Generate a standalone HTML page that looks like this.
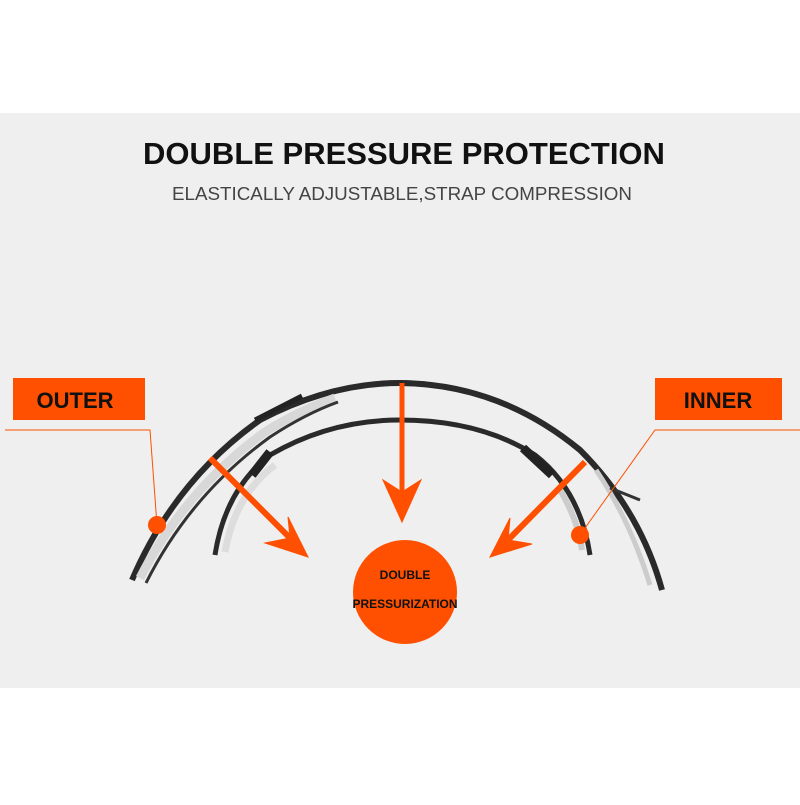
<!DOCTYPE html>
<html><head><style>
body{margin:0;width:800px;height:800px;background:#fff;overflow:hidden;font-family:"Liberation Sans",sans-serif}
</style></head><body>
<svg width="800" height="800" viewBox="0 0 800 800">
<rect x="0" y="113" width="800" height="575" fill="#efefef"/>
<text x="404" y="164" font-size="31" font-weight="bold" text-anchor="middle" fill="#111" font-family="Liberation Sans">DOUBLE PRESSURE PROTECTION</text>
<text x="402" y="200" font-size="18.8" text-anchor="middle" fill="#444" font-family="Liberation Sans">ELASTICALLY ADJUSTABLE,STRAP COMPRESSION</text>
<!-- outer band -->
<path d="M132,580 Q175,480 260,420 Q330,383 400,383 Q500,384 580,450 Q640,510 662,590" fill="none" stroke="#2a2a2a" stroke-width="6"/>
<path d="M140,578 Q185,490 265,432 Q300,410 335,398" fill="none" stroke="#d8d8d8" stroke-width="9"/>
<path d="M146,583 Q190,495 270,437 Q305,414 338,402" fill="none" stroke="#333" stroke-width="3"/>
<path d="M255,420 L302,396" stroke="#222" stroke-width="5"/>
<path d="M596,470 Q630,520 650,585" fill="none" stroke="#ccc" stroke-width="5"/>
<!-- inner band -->
<path d="M215,555 Q225,490 270,455 Q330,420 400,420 Q480,420 535,455 Q580,490 590,555" fill="none" stroke="#2a2a2a" stroke-width="5"/>
<path d="M225,552 Q235,495 275,465" fill="none" stroke="#ddd" stroke-width="7"/>
<path d="M252,475 L270,452" stroke="#222" stroke-width="9"/>
<path d="M523,448 L552,475" stroke="#222" stroke-width="9"/>
<path d="M560,490 Q578,520 582,550" fill="none" stroke="#ccc" stroke-width="6"/>
<path d="M610,488 L640,500" stroke="#333" stroke-width="3"/>
<!-- arrows -->
<g fill="#fe5000" stroke="#fe5000">
<line x1="402" y1="383" x2="402" y2="500" stroke-width="5"/>
<path d="M383,480 L402,522 L421,480 L402,492 Z"/>
<line x1="210" y1="458" x2="290" y2="538" stroke-width="6"/>
<path d="M288,517 L308,557 L265,543 L290,538 Z"/>
<line x1="585" y1="462" x2="508" y2="540" stroke-width="6"/>
<path d="M510,518 L490,557 L532,544 L508,540 Z"/>
</g>
<circle cx="405" cy="592" r="52" fill="#fe5000"/>
<text x="405" y="579" font-size="12" font-weight="bold" text-anchor="middle" fill="#111" font-family="Liberation Sans">DOUBLE</text>
<text x="405" y="608" font-size="12" font-weight="bold" text-anchor="middle" fill="#111" font-family="Liberation Sans">PRESSURIZATION</text>
<!-- labels -->
<rect x="13" y="378" width="132" height="42" fill="#fe5000"/>
<text x="75" y="408" font-size="22" font-weight="bold" text-anchor="middle" fill="#111" font-family="Liberation Sans">OUTER</text>
<polyline points="5,430 150,430 157,525" fill="none" stroke="#fe5000" stroke-width="1"/>
<circle cx="157" cy="525" r="9" fill="#fe5000"/>
<rect x="655" y="378" width="127" height="42" fill="#fe5000"/>
<text x="718" y="408" font-size="22" font-weight="bold" text-anchor="middle" fill="#111" font-family="Liberation Sans">INNER</text>
<polyline points="800,430 655,430 580,535" fill="none" stroke="#fe5000" stroke-width="1"/>
<circle cx="580" cy="535" r="9" fill="#fe5000"/>
</svg>
</body></html>
